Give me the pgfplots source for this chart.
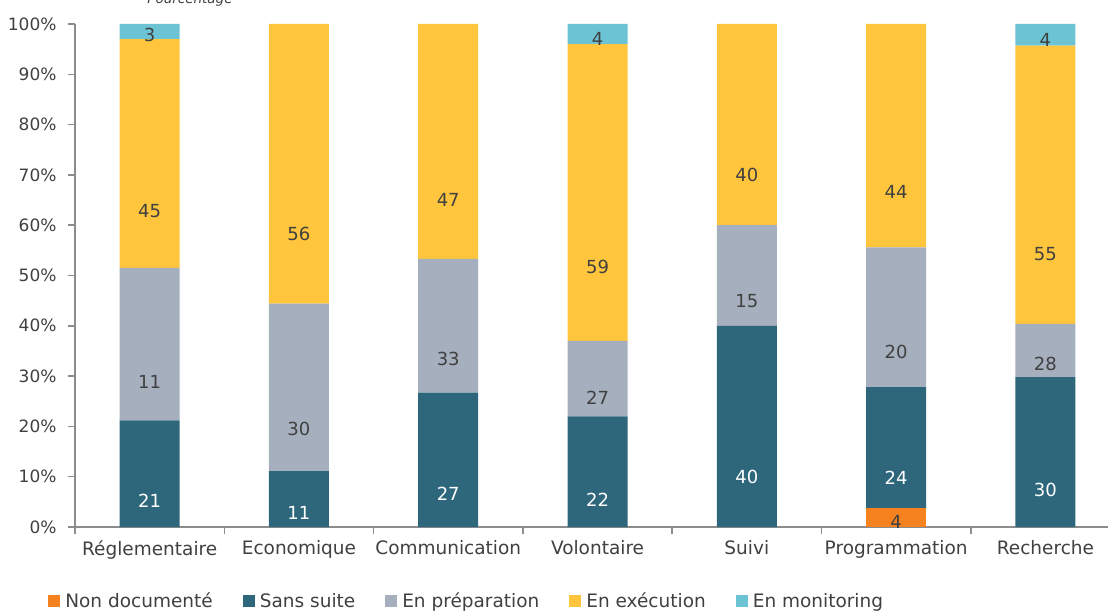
\documentclass[border=0pt]{standalone}
\usepackage{pgfplots}
\pgfplotsset{compat=1.18}
\usepackage{pgfplotstable}
\usepackage{fontspec}
\setmainfont{DejaVu Sans}
\definecolor{cND}{HTML}{F5821F}
\definecolor{cSS}{HTML}{2E677C}
\definecolor{cPR}{HTML}{A5AFBE}
\definecolor{cEX}{HTML}{FFC53D}
\definecolor{cMO}{HTML}{6CC3D3}
\definecolor{txt}{HTML}{404040}
\definecolor{axc}{HTML}{8C8C8C}
\pgfplotstableread{
x nd lnd ss lss pr lpr ex lex mo lmo
0 0 {} 21.2 21 30.3 11 45.5 45 3.0 3
1 0 {} 11.1 11 33.3 30 55.6 56 0 {}
2 0 {} 26.7 27 26.6 33 46.7 47 0 {}
3 0 {} 22.0 22 15.0 27 59.0 59 4.0 4
4 0 {} 40.0 40 20.0 15 40.0 40 0 {}
5 3.7 4 24.1 24 27.8 20 44.4 44 0 {}
6 0 {} 29.8 30 10.6 28 55.3 55 4.3 4
}\data
\newcommand{\fs}[1]{\fontsize{#1bp}{#1bp}\selectfont}
\pgfplotsset{
  seg/.style n args={3}{fill=#1, draw=none, nodes near coords, point meta=explicit symbolic,
    visualization depends on={\thisrow{#2} \as \segh},
    every node near coord/.append style={anchor=center, yshift={-\segh*1.2575bp}, text=#3, font=\fs{18}}},
}
\begin{document}
\begin{tikzpicture}
\begin{axis}[
  at={(0,0)}, anchor=south west, scale only axis, width=1033bp, height=503bp,
  ybar stacked, bar width=60bp,
  xmin=-0.5, xmax=6.419, ymin=0, ymax=100,
  axis x line*=bottom, axis y line*=left,
  axis line style={draw=axc, line width=1.5bp},
  tick align=outside,
  major tick length=7bp, minor tick length=7bp,
  ytick={0,10,...,100},
  yticklabels={0\%,10\%,20\%,30\%,40\%,50\%,60\%,70\%,80\%,90\%,100\%},
  y tick style={draw=axc, line width=1.5bp},
  y tick label style={font=\fs{17}, text=txt, xshift=-8bp},
  xtick={0,...,6},
  xticklabels={Réglementaire,Economique,Communication,Volontaire,Suivi,Programmation,Recherche},
  x tick style={draw=none},
  minor xtick={-0.5,0.5,...,5.5},
  minor x tick style={draw=axc, line width=1.5bp},
  x tick label style={font=\fs{18.5}, text=txt, yshift=-3bp},
  legend columns=-1,
  legend image code/.code={\fill[#1] (0bp,-6bp) rectangle (12bp,6bp);},
  legend style={at={(-0.026,-0.147)}, anchor=west, draw=none, fill=none,
    font=\fs{18.5}, text=txt, inner sep=0pt,
    nodes={inner sep=2bp},
    /tikz/every odd column/.append style={column sep=3bp},
    /tikz/every even column/.append style={column sep=28bp}},
]
\addplot[seg={cND}{nd}{txt}] table[x=x, y=nd, meta=lnd]{\data};
\addplot[seg={cSS}{ss}{white}] table[x=x, y=ss, meta=lss]{\data};
\addplot[seg={cPR}{pr}{txt}] table[x=x, y=pr, meta=lpr]{\data};
\addplot[seg={cEX}{ex}{txt}] table[x=x, y=ex, meta=lex]{\data};
\addplot[seg={cMO}{mo}{txt}] table[x=x, y=mo, meta=lmo]{\data};
\legend{Non documenté,Sans suite,En préparation,En exécution,En monitoring}
\end{axis}
\node[font=\fs{13.5}\itshape, text=txt, anchor=base] at (115bp,523.5bp) {Pourcentage};
\pgfresetboundingbox
\useasboundingbox (-75bp,-86bp) rectangle (1033bp,527bp);
\end{tikzpicture}
\end{document}
